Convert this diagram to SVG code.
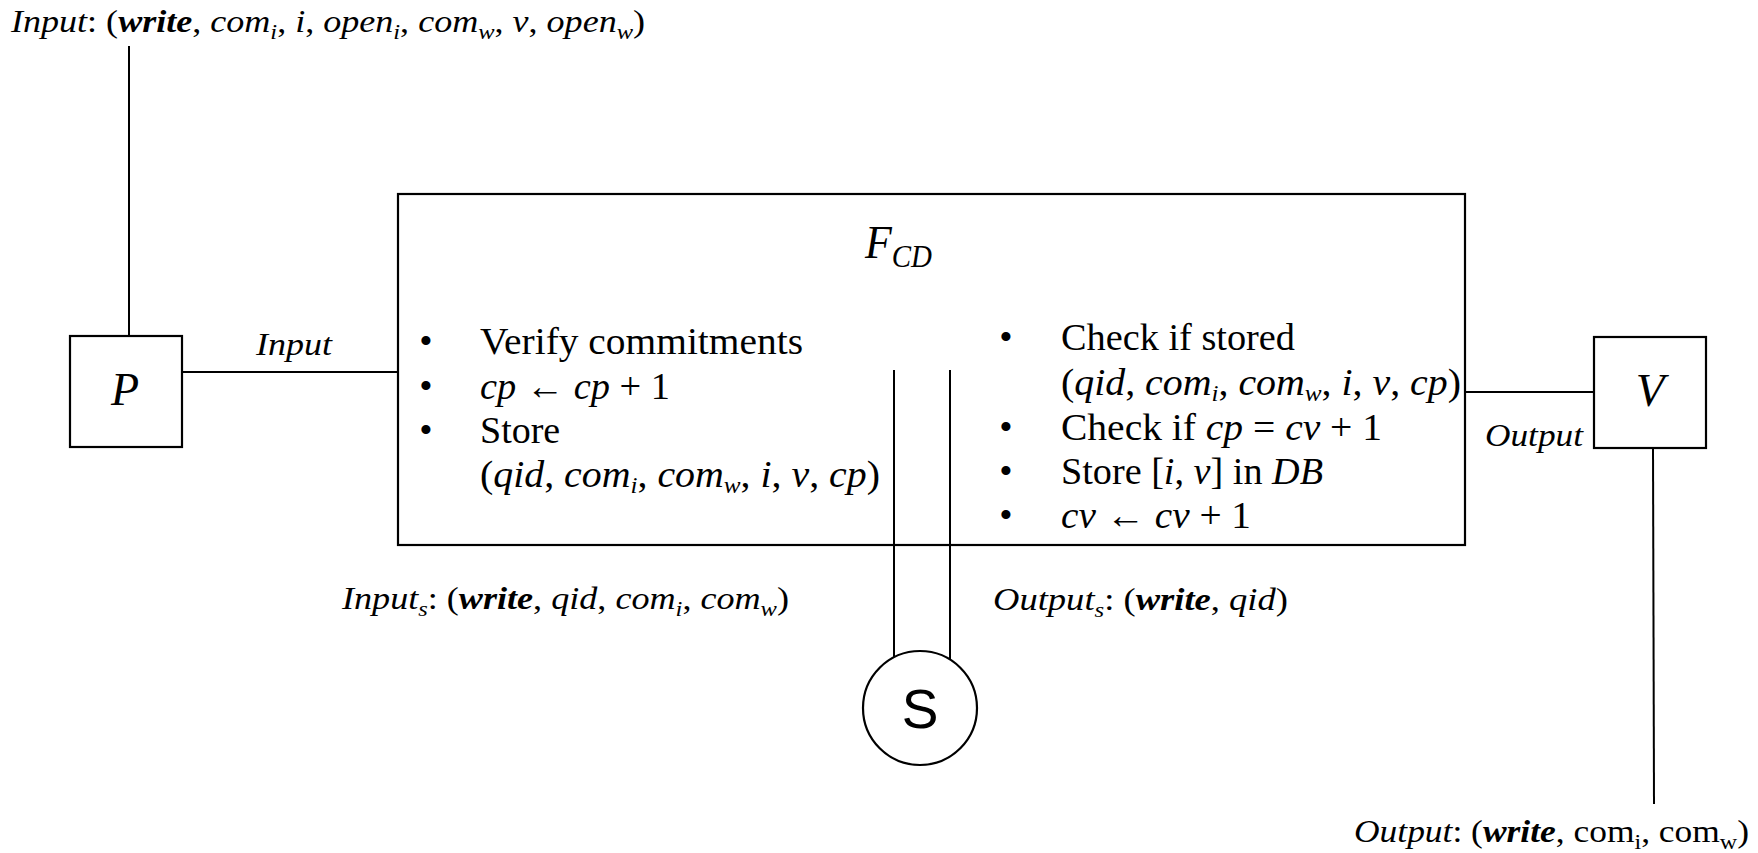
<svg xmlns="http://www.w3.org/2000/svg" width="1758" height="853" viewBox="0 0 1758 853">
<style>
text { font-family: "Liberation Serif", "DejaVu Serif", serif; fill: #000; }
.body { font-size: 38px; }
.lbl { font-size: 31px; }
.it { font-style: italic; }
.bi { font-style: italic; font-weight: bold; }
.s { font-size: 21px; }
.sb { font-size: 24px; }
.box { fill: #fff; stroke: #000; stroke-width: 2.2; }
.ln { fill: none; stroke: #000; stroke-width: 2; }
.sans { font-family: "Liberation Sans", Arial, sans-serif; }
</style>
<rect width="1758" height="853" fill="#fff"/>

<g id="node-FCD">
  <rect class="box" x="398" y="194" width="1067" height="351"/>
  <text class="it" x="865" y="258" font-size="47" textLength="67" lengthAdjust="spacingAndGlyphs">F<tspan font-size="31" dy="9">CD</tspan></text>
  <g id="left-list">
    <text class="body" x="426" y="354" text-anchor="middle">•</text>
    <text class="body" x="426" y="399" text-anchor="middle">•</text>
    <text class="body" x="426" y="443" text-anchor="middle">•</text>
    <text class="body" x="480" y="354" textLength="323" lengthAdjust="spacingAndGlyphs">Verify commitments</text>
    <text class="body" x="480" y="399" textLength="190" lengthAdjust="spacingAndGlyphs"><tspan class="it">cp</tspan> ← <tspan class="it">cp</tspan> + 1</text>
    <text class="body" x="480" y="443">Store</text>
    <text class="body" x="480" y="487" textLength="400" lengthAdjust="spacingAndGlyphs">(<tspan class="it">qid</tspan>, <tspan class="it">com</tspan><tspan class="it sb" dy="6">i</tspan><tspan dy="-6">, </tspan><tspan class="it">com</tspan><tspan class="it sb" dy="6">w</tspan><tspan dy="-6">, </tspan><tspan class="it">i</tspan>, <tspan class="it">v</tspan>, <tspan class="it">cp</tspan>)</text>
  </g>
  <g id="right-list">
    <text class="body" x="1006" y="350" text-anchor="middle">•</text>
    <text class="body" x="1006" y="440" text-anchor="middle">•</text>
    <text class="body" x="1006" y="484" text-anchor="middle">•</text>
    <text class="body" x="1006" y="528" text-anchor="middle">•</text>
    <text class="body" x="1061" y="350" textLength="234" lengthAdjust="spacingAndGlyphs">Check if stored</text>
    <text class="body" x="1061" y="395" textLength="400" lengthAdjust="spacingAndGlyphs">(<tspan class="it">qid</tspan>, <tspan class="it">com</tspan><tspan class="it sb" dy="6">i</tspan><tspan dy="-6">, </tspan><tspan class="it">com</tspan><tspan class="it sb" dy="6">w</tspan><tspan dy="-6">, </tspan><tspan class="it">i</tspan>, <tspan class="it">v</tspan>, <tspan class="it">cp</tspan>)</text>
    <text class="body" x="1061" y="440" textLength="321" lengthAdjust="spacingAndGlyphs">Check if <tspan class="it">cp</tspan> = <tspan class="it">cv</tspan> + 1</text>
    <text class="body" x="1061" y="484" textLength="262" lengthAdjust="spacingAndGlyphs">Store [<tspan class="it">i</tspan>, <tspan class="it">v</tspan>] in <tspan class="it">DB</tspan></text>
    <text class="body" x="1061" y="528" textLength="190" lengthAdjust="spacingAndGlyphs"><tspan class="it">cv</tspan> ← <tspan class="it">cv</tspan> + 1</text>
  </g>
</g>

<g id="node-P">
  <rect class="box" x="70" y="336" width="112" height="111"/>
  <text class="it" x="125" y="405" font-size="46" text-anchor="middle">P</text>
</g>

<g id="node-V">
  <rect class="box" x="1594" y="337" width="112" height="111"/>
  <text class="it" x="1650" y="406" font-size="47" text-anchor="middle">V</text>
</g>

<g id="node-S">
  <circle class="box" cx="920" cy="708" r="57"/>
  <text class="sans" x="920" y="728" font-size="55" text-anchor="middle">S</text>
</g>

<g id="connectors">
  <line class="ln" x1="129" y1="46" x2="129" y2="336"/>
  <line class="ln" x1="182" y1="372" x2="398" y2="372"/>
  <line class="ln" x1="1465" y1="392" x2="1594" y2="392"/>
  <line class="ln" x1="1653" y1="448" x2="1654" y2="804"/>
  <line class="ln" x1="894" y1="370" x2="894" y2="657"/>
  <line class="ln" x1="950" y1="370" x2="950" y2="660"/>
</g>

<g id="labels">
  <text class="lbl" x="11" y="32" textLength="634" lengthAdjust="spacingAndGlyphs"><tspan class="it">Input</tspan>: (<tspan class="bi">write</tspan>, <tspan class="it">com</tspan><tspan class="it s" dy="7">i</tspan><tspan dy="-7">, </tspan><tspan class="it">i</tspan>, <tspan class="it">open</tspan><tspan class="it s" dy="7">i</tspan><tspan dy="-7">, </tspan><tspan class="it">com</tspan><tspan class="it s" dy="7">w</tspan><tspan dy="-7">, </tspan><tspan class="it">v</tspan>, <tspan class="it">open</tspan><tspan class="it s" dy="7">w</tspan><tspan dy="-7">)</tspan></text>
  <text class="lbl it" x="256" y="355" textLength="76" lengthAdjust="spacingAndGlyphs">Input</text>
  <text class="lbl it" x="1485" y="446" textLength="98" lengthAdjust="spacingAndGlyphs">Output</text>
  <text class="lbl" x="342" y="609" textLength="447" lengthAdjust="spacingAndGlyphs"><tspan class="it">Input</tspan><tspan class="it s" dy="7">s</tspan><tspan dy="-7">: (</tspan><tspan class="bi">write</tspan>, <tspan class="it">qid</tspan>, <tspan class="it">com</tspan><tspan class="it s" dy="7">i</tspan><tspan dy="-7">, </tspan><tspan class="it">com</tspan><tspan class="it s" dy="7">w</tspan><tspan dy="-7">)</tspan></text>
  <text class="lbl" x="993" y="610" textLength="295" lengthAdjust="spacingAndGlyphs"><tspan class="it">Output</tspan><tspan class="it s" dy="7">s</tspan><tspan dy="-7">: (</tspan><tspan class="bi">write</tspan>, <tspan class="it">qid</tspan>)</text>
  <text class="lbl" x="1354" y="842" textLength="395" lengthAdjust="spacingAndGlyphs"><tspan class="it">Output</tspan>: (<tspan class="bi">write</tspan>, com<tspan class="s" dy="7">i</tspan><tspan dy="-7">, com</tspan><tspan class="s" dy="7">w</tspan><tspan dy="-7">)</tspan></text>
</g>
</svg>
